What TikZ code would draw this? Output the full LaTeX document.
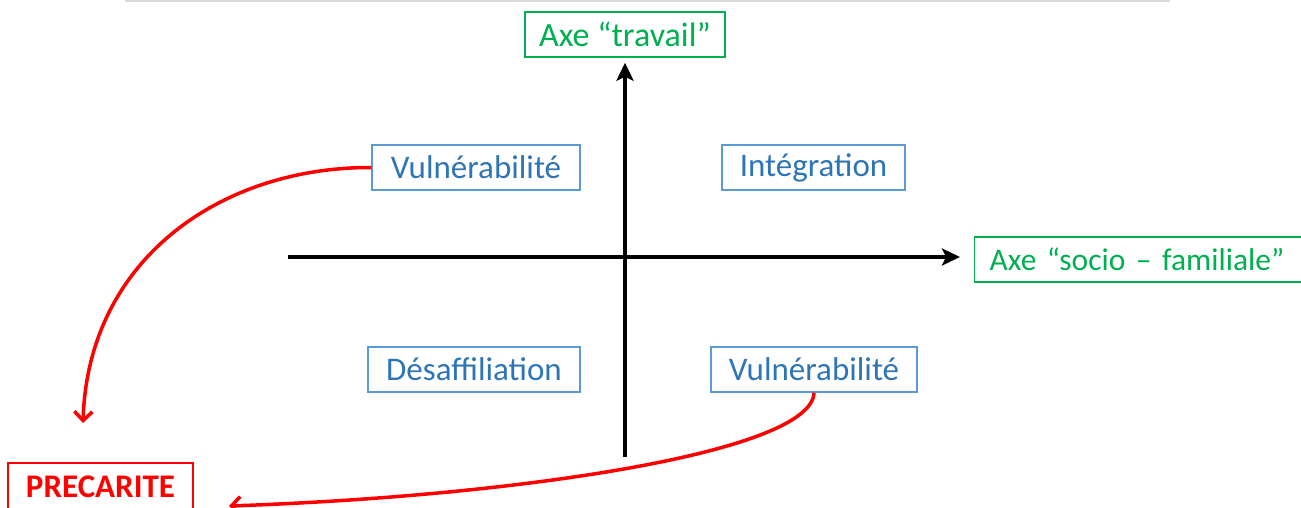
\documentclass[tikz,border=0pt]{standalone}
\usepackage{fontspec}
\setmainfont{Carlito}
\usetikzlibrary{arrows.meta}
\definecolor{bluetxt}{RGB}{46,117,182}
\definecolor{blueln}{RGB}{91,155,213}
\definecolor{greentxt}{RGB}{0,176,80}
\definecolor{redc}{RGB}{255,0,0}
\definecolor{topgray}{RGB}{218,218,218}
\tikzset{
  quad/.style={draw=blueln, line width=1.4pt, text=bluetxt, minimum height=45pt,
    inner sep=0pt, align=center, font=\fontsize{33}{36}\selectfont},
  axislabel/.style={draw=greentxt, line width=1.4pt, text=greentxt, minimum height=45pt,
    inner sep=0pt, font=\fontsize{31.5}{34}\selectfont},
  precbox/.style={draw=redc, line width=2.6pt, text=redc, minimum height=48pt,
    minimum width=185pt, inner sep=0pt, font=\bfseries\fontsize{33}{36}\selectfont},
  axisline/.style={line width=3.5pt, draw=black, -{Stealth[length=18pt,width=17pt,inset=4pt]}},
  redarrow/.style={line width=3.5pt, draw=redc, -{Straight Barb[length=9pt,width=18pt,line width=3.5pt]}}
}
\begin{document}
\begin{tikzpicture}[x=1pt,y=-1pt]
\useasboundingbox (0,0) rectangle (1301,508);
% thin gray rule at top
\coordinate (ruleL) at (125,1);
\coordinate (ruleR) at (1170,1);
\draw[topgray, line width=2pt] (ruleL) -- (ruleR);

% axis labels
\node[axislabel, minimum width=200pt, font=\fontsize{34}{36}\selectfont] (travail) at (625,34.5) {Axe “travail”};
\node[axislabel, minimum width=330pt, anchor=west, align=left, text width=300pt, inner xsep=15pt] (socio) at (974,259.5) {Axe “socio – familiale”};

% quadrant boxes
\node[quad, minimum width=208pt] (vulnA) at (476,167.5) {Vulnérabilité};
\node[quad, minimum width=183pt] (integ) at (813.5,167.5) {Intégration};
\node[quad, minimum width=212pt] (desaf) at (474,369.5) {Désaffiliation};
\node[quad, minimum width=206pt] (vulnB) at (814,369.5) {Vulnérabilité};

% precarite
\node[precbox] (prec) at (100.5,487) {PRECARITE};

% axes
\coordinate (vbot) at (625,457);
\coordinate (hleft) at (288,257);
\draw[axisline, shorten >=5pt] (vbot) -- (travail.south);
\draw[axisline, shorten >=14pt] (hleft) -- (socio.west |- hleft);

% red arrows
\coordinate (tipA) at (83,423);
\coordinate (tipB) at (229,506);
\draw[redarrow] (vulnA.west) .. controls (220,167) and (88,260) .. (tipA);
\draw[redarrow] (vulnB.south) .. controls (812,452) and (520,496) .. (tipB);
\end{tikzpicture}
\end{document}
